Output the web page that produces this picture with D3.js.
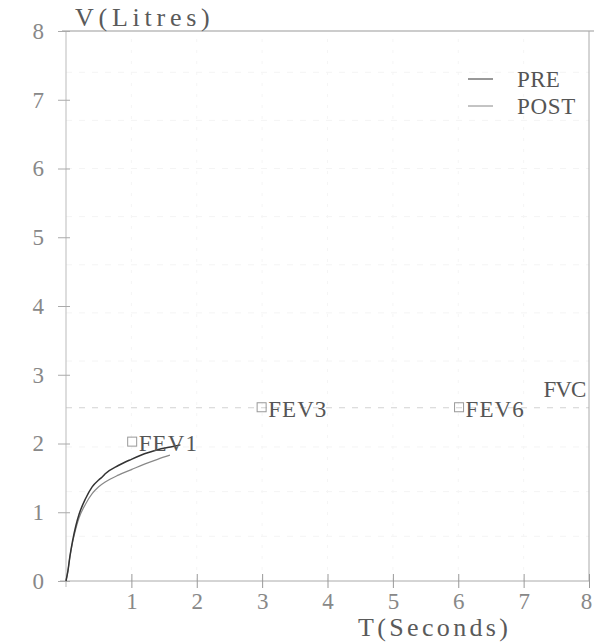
<!DOCTYPE html>
<meta charset="utf-8">
<style>
body { margin: 0; background: #fff; }
text { font-family: "Liberation Serif", "DejaVu Serif", serif; }
.lbl { fill: #555; font-size: 23px; }
.ttl { fill: #5a5a5a; font-size: 26px; }
.num { fill: #888; font-size: 23px; }
</style>
<svg width="594" height="643"></svg>
<script src="https://d3js.org/d3.v7.min.js"></script>
<script>
// timed volume curves
var preT  = [0, 0.03, 0.06, 0.1, 0.15, 0.2, 0.3, 0.4, 0.5, 0.55, 0.6, 0.8, 1.0, 1.2, 1.4, 1.6, 1.75];
var preV  = [0, 0.15, 0.36, 0.58, 0.8, 0.97, 1.2, 1.37, 1.47, 1.51, 1.56, 1.68, 1.77, 1.85, 1.91, 1.95, 1.98];
var postT = [0, 0.03, 0.06, 0.1, 0.15, 0.2, 0.3, 0.4, 0.5, 0.6, 0.8, 1.0, 1.2, 1.4, 1.59];
var postV = [0, 0.15, 0.35, 0.56, 0.76, 0.92, 1.12, 1.27, 1.37, 1.44, 1.54, 1.62, 1.7, 1.77, 1.83];

var markNames = ["FEV1", "FEV3", "FEV6", "FVC"];
var markT     = [1.02, 3.0, 6.02, 7.35];
var markV     = [2.02, 2.52, 2.52, 2.7];
var markBox   = [true, true, true, false];

var xTicks = [1, 2, 3, 4, 5, 6, 7, 8];
var yTicks = [0, 1, 2, 3, 4, 5, 6, 7, 8];
var gridV  = [0.65, 1.3, 1.95, 2.52, 3.2, 3.9, 4.6, 5.3, 6.0, 6.7, 7.4];
var legendNames = ["PRE", "POST"];
var legendColors = ["#333", "#888"];

var CW = 15.3; // width of one printer character

var svg = d3.select("svg");
var x = d3.scaleLinear().domain([0, 8]).range([66, 589]);
var y = d3.scaleLinear().domain([0, 8]).range([581, 31]);

function label(str, px, py, cls) {
  return svg.append("text").attr("class", cls || "lbl").attr("x", px).attr("y", py)
    .attr("textLength", str.length * CW - 3).attr("lengthAdjust", "spacing").text(str);
}

// faint grid
svg.append("g").selectAll("line").data(gridV).enter().append("line")
  .attr("x1", x(0)).attr("x2", x(8))
  .attr("y1", function(d){ return y(d); }).attr("y2", function(d){ return y(d); })
  .attr("stroke", function(d){ return d == 2.52 ? "#d2d2d2" : "#f4f4f4"; })
  .attr("stroke-dasharray", "6,7");
svg.append("g").selectAll("line").data(xTicks.slice(0, 7)).enter().append("line")
  .attr("y1", y(0)).attr("y2", y(8))
  .attr("x1", function(d){ return x(d); }).attr("x2", function(d){ return x(d); })
  .attr("stroke", "#f5f5f5").attr("stroke-dasharray", "3,8");

// frame
svg.append("line").attr("x1", x(0) - 4).attr("x2", 594).attr("y1", y(8)).attr("y2", y(8)).attr("stroke", "#999");
svg.append("line").attr("x1", x(8)).attr("x2", x(8)).attr("y1", y(8)).attr("y2", y(0)).attr("stroke", "#aaa");

// axes
var xAxis = d3.axisBottom(x).tickValues(xTicks).tickSize(0).tickPadding(12);
var gx = svg.append("g").attr("transform", "translate(0," + y(0) + ")").call(xAxis);
gx.select(".domain").attr("stroke", "#aaa").attr("d", "M" + (x(0) - 6) + ",0H" + x(8));
gx.selectAll(".tick line").remove();
gx.selectAll(".tick").append("line").attr("y1", -7).attr("y2", 7).attr("stroke", "#999");
gx.selectAll("text").attr("class", "num").attr("font-size", null).attr("font-family", null)
  .attr("dx", function(d){ return d == 8 ? -3 : 0; });

var yAxis = d3.axisLeft(y).tickValues(yTicks).tickSize(0).tickPadding(22);
var gy = svg.append("g").attr("transform", "translate(" + x(0) + ",0)").call(yAxis);
gy.select(".domain").attr("stroke", "#bbb").attr("d", "M0," + y(8) + "V" + (y(0) + 6));
gy.selectAll(".tick").append("line").attr("x1", -8).attr("x2", 4).attr("stroke", "#aaa");
gy.selectAll("text").attr("class", "num").attr("font-size", null).attr("font-family", null);

label("V(Litres)", 75, 26, "ttl");
label("T(Seconds)", 358, 636, "ttl");

// curves
var line = d3.line().curve(d3.curveMonotoneX);
function pts(ts, vs) { return ts.map(function(t, i){ return [x(t), y(vs[i])]; }); }
svg.append("path").attr("d", line(pts(postT, postV))).attr("fill", "none").attr("stroke", "#888").attr("stroke-width", 1.2);
svg.append("path").attr("d", line(pts(preT, preV))).attr("fill", "none").attr("stroke", "#333").attr("stroke-width", 1.5);

// markers
markNames.forEach(function(n, i){
  var cx = x(markT[i]), cy = y(markV[i]);
  if (markBox[i]) {
    svg.append("rect").attr("x", cx - 5).attr("y", cy - 5).attr("width", 9).attr("height", 9)
      .attr("fill", "none").attr("stroke", "#999");
    label(n, cx + 6, cy + 9);
  } else {
    label(n, cx - 3, cy + 2);
  }
});

// legend
legendNames.forEach(function(n, i){
  var ly = 79 + i * 27;
  svg.append("line").attr("x1", 468).attr("x2", 493).attr("y1", ly).attr("y2", ly).attr("stroke", legendColors[i]);
  label(n, 517, ly + 8);
});
</script>
